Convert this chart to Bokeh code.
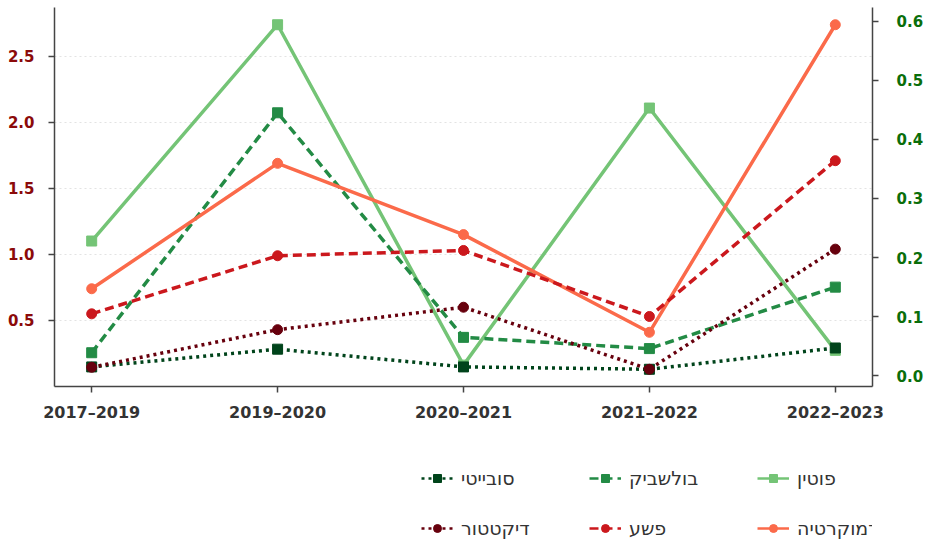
from bokeh.plotting import figure
from bokeh.layouts import column
from bokeh.models import (Range1d, LinearAxis, FixedTicker, PrintfTickFormatter,
                          Legend, LegendItem)
from bokeh.embed import file_html
from bokeh.resources import INLINE

# ---- data ----
periods = ["2017–2019", "2019–2020", "2020–2021", "2021–2022", "2022–2023"]
x_idx = list(range(len(periods)))

# left axis (red family)
democracy = [0.74, 1.69, 1.15, 0.41, 2.74]
crime = [0.55, 0.99, 1.03, 0.53, 1.71]
dictator = [0.145, 0.43, 0.60, 0.13, 1.04]
# right axis (green family)
putin = [0.228, 0.594, 0.018, 0.453, 0.043]
bolshevik = [0.039, 0.445, 0.065, 0.046, 0.150]
soviet = [0.015, 0.045, 0.015, 0.011, 0.047]

left_ticks = [0.5, 1.0, 1.5, 2.0, 2.5]
right_ticks = [0.0, 0.1, 0.2, 0.3, 0.4, 0.5, 0.6]

names = {
    "democracy": "דמוקרטיה",
    "crime": "פשע",
    "dictator": "דיקטטור",
    "putin": "פוטין",
    "bolshevik": "בולשביק",
    "soviet": "סובייטי",
}

def padded(vals, frac=0.05):
    lo, hi = min(vals), max(vals)
    span = hi - lo
    return lo - frac * span, hi + frac * span

l0, l1 = padded(democracy + crime + dictator)
r0, r1 = padded(putin + bolshevik + soviet)

TICK_FONT = "DejaVu Sans"
W = 926

p = figure(width=W, height=424, output_backend="svg", toolbar_location=None,
           x_range=Range1d(-0.2, 4.2), y_range=Range1d(l0, l1),
           min_border_left=54, min_border_right=W - 880, min_border_top=7,
           min_border_bottom=38)
p.outline_line_color = None
p.background_fill_color = "white"
p.border_fill_color = "white"
p.extra_y_ranges = {"right": Range1d(r0, r1)}

# grid
p.xgrid.grid_line_color = None
p.ygrid.grid_line_color = "#e3e3e3"
p.ygrid.grid_line_dash = "2 3"
p.ygrid.grid_line_width = 1
p.ygrid.ticker = FixedTicker(ticks=left_ticks)

def style_axis(ax, color, size):
    ax.major_label_text_font = TICK_FONT
    ax.major_label_text_font_style = "bold"
    ax.major_label_text_font_size = size
    ax.major_label_text_color = color
    ax.axis_line_color = "#444444"
    ax.axis_line_width = 1.5
    ax.major_tick_line_color = "#444444"
    ax.major_tick_line_width = 1.5
    ax.major_tick_out = 6
    ax.major_tick_in = 0
    ax.minor_tick_line_color = None

# x axis
xa = p.xaxis[0]
xa.ticker = FixedTicker(ticks=x_idx)
xa.major_label_overrides = {i: s for i, s in enumerate(periods)}
style_axis(xa, "#333333", "16px")
xa.major_label_standoff = 10

# left axis
ya = p.yaxis[0]
ya.ticker = FixedTicker(ticks=left_ticks)
ya.formatter = PrintfTickFormatter(format="%.1f")
style_axis(ya, "#8b0a0a", "15px")
ya.major_label_standoff = 14

# right axis
ra = LinearAxis(y_range_name="right", ticker=FixedTicker(ticks=right_ticks),
                formatter=PrintfTickFormatter(format="%.1f"))
style_axis(ra, "#0a6e0a", "15px")
ra.major_label_standoff = 18
p.add_layout(ra, "right")

LW = 3.5
series = [
    # key, values, color, dash, marker, range
    ("putin", putin, "#74c476", "solid", "square", "right"),
    ("bolshevik", bolshevik, "#238b45", "9 5", "square", "right"),
    ("soviet", soviet, "#00441b", "3 4", "square", "right"),
    ("democracy", democracy, "#fb6a4a", "solid", "circle", "default"),
    ("crime", crime, "#cb181d", "9 5", "circle", "default"),
    ("dictator", dictator, "#67000d", "3 4", "circle", "default"),
]

# legend strip below the chart: same series, drawn outside its visible range,
# so that only the legend keys show
lf = figure(width=W, height=115, output_backend="svg", toolbar_location=None,
            x_range=Range1d(0, 1), y_range=Range1d(-20, -19),
            x_axis_type=None, y_axis_type=None, min_border=0)
lf.outline_line_color = None
lf.xgrid.visible = False
lf.ygrid.visible = False

items = {}
for key, vals, color, dash, marker, rng in series:
    kw = {} if rng == "default" else {"y_range_name": "right"}
    p.line(x_idx, vals, line_color=color, line_width=LW, line_dash=dash, **kw)
    p.scatter(x_idx, vals, marker=marker, size=10, fill_color=color,
              line_color=color, **kw)
    k1 = lf.line(x_idx, vals, line_color=color, line_width=2.5, line_dash=dash)
    k2 = lf.scatter(x_idx, vals, marker=marker, size=10, fill_color=color,
                    line_color=color)
    items[key] = [k1, k2]

# column-major fill: (row1, row2) per column, left to right
order = ["soviet", "dictator", "bolshevik", "crime", "putin", "democracy"]
# trailing spaces widen the measured box of the right-hand labels so the
# right-to-left text is not clipped at the legend's edge
labels = {k: (names[k] + "   " if k in ("putin", "democracy") else names[k])
          for k in order}
legend = Legend(items=[LegendItem(label=labels[k], renderers=items[k]) for k in order],
                ncols=3, location=(367, 0))
legend.label_text_font = "DejaVu Sans"
legend.label_text_font_size = "19px"
legend.label_text_color = "#333333"
legend.glyph_width = 32
legend.glyph_height = 20
legend.label_height = 20
legend.label_width = 100
legend.label_standoff = 8
legend.spacing = 28
legend.padding = 0
legend.margin = 0
legend.border_line_color = None
legend.background_fill_alpha = 0
lf.add_layout(legend)

open("out.html", "w").write(file_html(column(p, lf), INLINE))
